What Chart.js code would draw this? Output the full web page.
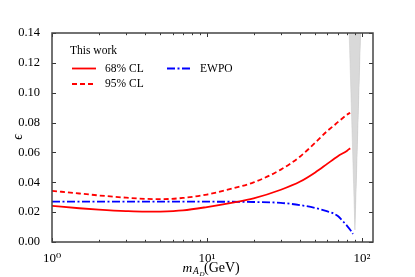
<!DOCTYPE html>
<html><head><meta charset="utf-8">
<script src="https://cdn.jsdelivr.net/npm/chart.js@4/dist/chart.umd.min.js"></script>
<style>html,body{margin:0;padding:0;background:#fff}canvas{display:block}</style>
</head><body>
<canvas id="c" width="415" height="277"></canvas>
<script>
// ---- data ----
const massCL = [1, 1.5, 2, 3, 4, 5, 7, 10, 15, 20, 30, 40, 50, 60, 65, 70, 80, 84];
const cl68   = [0.0242, 0.0226, 0.0217, 0.0207, 0.0203, 0.0204, 0.0212, 0.0234, 0.0265, 0.0292, 0.0350, 0.0405, 0.0466, 0.0525, 0.0551, 0.0575, 0.0610, 0.0628];
const cl95   = [0.0343, 0.0325, 0.0312, 0.0297, 0.0289, 0.0287, 0.0295, 0.0318, 0.0362, 0.0399, 0.0485, 0.0573, 0.0665, 0.0745, 0.0774, 0.0803, 0.0852, 0.0866];
const massEW = [1, 5, 10, 20, 30, 40, 50, 60, 65, 70, 75, 80, 85, 87.5];
const ewpo   = [0.0271, 0.0271, 0.0270, 0.0268, 0.0262, 0.0247, 0.0228, 0.0205, 0.0193, 0.0174, 0.0142, 0.0110, 0.0075, 0.0054];
const bandOuterX = [82.8, 90.2, 98.1];
const bandOuterY = [0.14, 0.0081, 0.14];
const bandInnerX = [87.0, 90.2, 98.1];
const bandInnerY = [0.14, 0.0081, 0.14];
const xTickLabels = {1: '10⁰', 10: '10¹', 100: '10²'};
const seriesNames = ['68% CL', '95% CL', 'EWPO'];
const legendTitle = 'This work';

const pts = (xs, ys) => xs.map((x, i) => ({x, y: ys[i]}));
const SERIF = '"Liberation Serif","DejaVu Serif",serif';
const RED = '#ff0000', BLUE = '#0000ff';
const DASH95 = [5, 3], DASHEW = [8, 2.5, 2, 2.5];

const framePlugin = {
  id: 'frame',
  afterDraw(chart) {
    const {ctx, chartArea: a, scales} = chart;
    const xs = scales.x, ys = scales.y;
    ctx.save();
    // ticks
    ctx.strokeStyle = '#333'; ctx.lineWidth = 1;
    const minor = [];
    for (let d = 1; d <= 100; d *= 10) for (let k = 1; k <= 9; k++) { const v = d * k; if (v <= 118) minor.push(v); }
    minor.forEach(v => {
      const major = (v === 1 || v === 10 || v === 100);
      const L = major ? 4 : 2.2;
      const px = Math.round(xs.getPixelForValue(v)) + 0.5;
      ctx.beginPath();
      ctx.moveTo(px, a.bottom); ctx.lineTo(px, a.bottom - L);
      ctx.moveTo(px, a.top); ctx.lineTo(px, a.top + L);
      ctx.stroke();
    });
    for (let i = 0; i <= 7; i++) {
      const py = Math.round(ys.getPixelForValue(i * 0.02)) + 0.5;
      ctx.beginPath();
      ctx.moveTo(a.left, py); ctx.lineTo(a.left + 4, py);
      ctx.moveTo(a.right, py); ctx.lineTo(a.right - 4, py);
      ctx.stroke();
    }
    // frame
    ctx.strokeStyle = '#444'; ctx.lineWidth = 1.5;
    ctx.strokeRect(a.left, a.top, a.right - a.left, a.bottom - a.top);

    // legend
    ctx.fillStyle = '#000';
    ctx.textBaseline = 'middle';
    ctx.font = '11.5px ' + SERIF;
    ctx.fillText(legendTitle, 70, 51);
    const entries = [
      {x: 72, y: 68.5, color: RED, dash: [], name: seriesNames[0]},
      {x: 72, y: 84, color: RED, dash: DASH95, name: seriesNames[1]},
      {x: 167, y: 68.5, color: BLUE, dash: DASHEW, name: seriesNames[2]},
    ];
    entries.forEach(e => {
      ctx.strokeStyle = e.color; ctx.lineWidth = 1.8; ctx.setLineDash(e.dash);
      ctx.beginPath(); ctx.moveTo(e.x, e.y); ctx.lineTo(e.x + 24, e.y); ctx.stroke();
      ctx.setLineDash([]);
      ctx.fillText(e.name, e.x + 33, e.y);
    });

    // axis titles
    ctx.textBaseline = 'alphabetic';
    ctx.font = 'italic 13.5px ' + SERIF;
    ctx.fillText('m', 182.5, 271.5);
    ctx.font = 'italic 9.5px ' + SERIF;
    ctx.fillText('A', 193, 274);
    ctx.font = 'italic 7px ' + SERIF;
    ctx.fillText('D', 199.5, 276);
    ctx.font = '14px ' + SERIF;
    ctx.fillText('(GeV)', 204, 271.5);

    ctx.save();
    ctx.translate(22, 137);
    ctx.rotate(-Math.PI / 2);
    ctx.font = 'italic 14px ' + SERIF;
    ctx.textAlign = 'center';
    ctx.fillText('ϵ', 0, 0);
    ctx.restore();
    ctx.restore();
  }
};

new Chart(document.getElementById('c'), {
  type: 'scatter',
  data: {
    datasets: [
      {data: pts(bandOuterX, bandOuterY), showLine: true, fill: 'shape', backgroundColor: '#d9d9d9', borderColor: '#c8c8c8', borderWidth: 0.5, pointRadius: 0, tension: 0},
      {data: pts(bandInnerX, bandInnerY), showLine: true, fill: 'shape', backgroundColor: '#c4c4c4', borderColor: '#c4c4c4', borderWidth: 0, pointRadius: 0, tension: 0},
      {label: seriesNames[0], data: pts(massCL, cl68), showLine: true, borderColor: RED, borderWidth: 1.8, pointRadius: 0, cubicInterpolationMode: 'monotone'},
      {label: seriesNames[1], data: pts(massCL, cl95), showLine: true, borderColor: RED, borderWidth: 1.8, borderDash: DASH95, pointRadius: 0, cubicInterpolationMode: 'monotone'},
      {label: seriesNames[2], data: pts(massEW, ewpo), showLine: true, borderColor: BLUE, borderWidth: 1.8, borderDash: DASHEW, pointRadius: 0, cubicInterpolationMode: 'monotone'},
    ]
  },
  options: {
    responsive: false,
    animation: false,
    events: [],
    layout: {padding: {left: 0, right: 42, top: 33, bottom: 0}},
    plugins: {legend: {display: false}, tooltip: {enabled: false}},
    scales: {
      x: {
        type: 'logarithmic', min: 1, max: 118,
        grid: {display: false}, border: {display: false},
        afterBuildTicks: s => { s.ticks = [1, 10, 100].map(v => ({value: v})); },
        afterFit: s => { s.height = 35; },
        ticks: {padding: 1, color: '#000', font: {family: SERIF, size: 13}, maxRotation: 0, autoSkip: false,
                callback: v => xTickLabels[v] || ''}
      },
      y: {
        min: 0, max: 0.14,
        grid: {display: false}, border: {display: false},
        afterFit: s => { s.width = 52; },
        ticks: {stepSize: 0.02, padding: 4, color: '#000', font: {family: SERIF, size: 12.5},
                callback: v => v.toFixed(2)}
      }
    }
  },
  plugins: [framePlugin]
});
</script>
</body></html>
